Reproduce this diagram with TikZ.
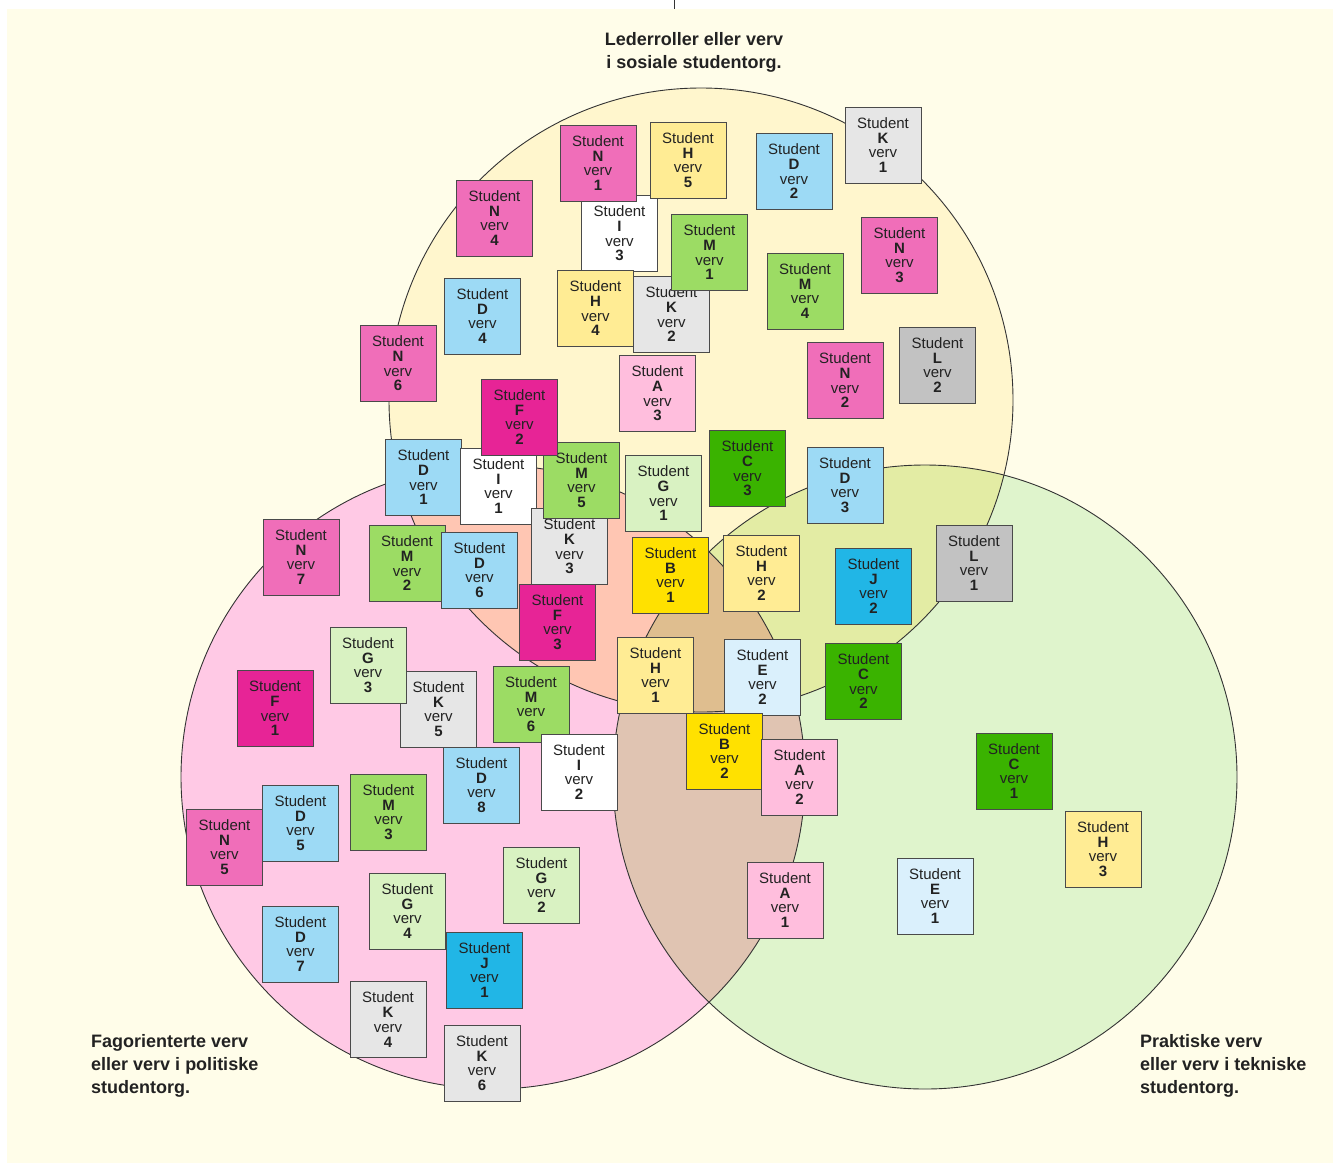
\documentclass[tikz,border=0pt]{standalone}
\usepackage{fontspec}
\setmainfont{Liberation Sans}
\definecolor{bgc}{HTML}{FFFDE9}
\definecolor{topc}{HTML}{FFF6CD}
\definecolor{leftc}{HTML}{FFC9E5}
\definecolor{rightc}{HTML}{DFF4CC}
\definecolor{tlc}{HTML}{FFC6B3}
\definecolor{trc}{HTML}{E3ECA4}
\definecolor{lrc}{HTML}{E0C4B2}
\definecolor{tlrc}{HTML}{DFBE8F}
\definecolor{ringline}{HTML}{333333}
\definecolor{boxline}{HTML}{4A4A4A}
\definecolor{txt}{HTML}{222222}
\definecolor{colN}{HTML}{F06EB9}
\definecolor{colH}{HTML}{FFEC94}
\definecolor{colI}{HTML}{FFFFFF}
\definecolor{colD}{HTML}{9DDAF5}
\definecolor{colK}{HTML}{E6E6E6}
\definecolor{colM}{HTML}{9CDC64}
\definecolor{colL}{HTML}{C2C2C2}
\definecolor{colA}{HTML}{FFBEDD}
\definecolor{colF}{HTML}{E72496}
\definecolor{colC}{HTML}{3AB300}
\definecolor{colG}{HTML}{D9F2C2}
\definecolor{colB}{HTML}{FFE100}
\definecolor{colJ}{HTML}{21B6E6}
\definecolor{colE}{HTML}{DAF0FC}
\newcommand{\studbox}[4]{\node[box,fill=col#3] (#3#4) at (#1,#2) {Student\\\textbf{#3}\\verv\\\textbf{#4}};}
\begin{document}
\begin{tikzpicture}[x=1pt,y=-1pt,
  box/.style={draw=boxline,line width=0.9pt,minimum width=76pt,minimum height=76pt,inner sep=0pt,align=center,text=txt,font=\fontsize{15}{14.7}\selectfont},
  lbl/.style={font=\bfseries\fontsize{18}{23}\selectfont,text=txt,inner sep=0pt},
  ring/.style={draw=ringline,line width=0.9pt}]
\useasboundingbox (0,0) rectangle (1333,1163);
\fill[white] (0,0) rectangle (1333,1163);
\fill[bgc] (7,9) rectangle (1333,1163);
\coordinate (vtop) at (674,0);
\coordinate (vbot) at (674,9);
\draw[ringline,line width=0.8pt] (vtop) -- (vbot);
\coordinate (T) at (701,400);
\coordinate (L) at (493,777);
\coordinate (R) at (925,777);
% fills
\fill[topc] (T) circle[radius=312pt];
\fill[leftc] (L) circle[radius=312pt];
\fill[rightc] (R) circle[radius=312pt];
\begin{scope}\clip (T) circle[radius=312pt]; \fill[tlc] (L) circle[radius=312pt];\end{scope}
\begin{scope}\clip (T) circle[radius=312pt]; \fill[trc] (R) circle[radius=312pt];\end{scope}
\begin{scope}\clip (L) circle[radius=312pt]; \fill[lrc] (R) circle[radius=312pt];\end{scope}
\begin{scope}\clip (T) circle[radius=312pt]; \clip (L) circle[radius=312pt]; \fill[tlrc] (R) circle[radius=312pt];\end{scope}
\draw[ring] (T) circle[radius=312pt];
\draw[ring] (L) circle[radius=312pt];
\draw[ring] (R) circle[radius=312pt];
% labels
\node[lbl,align=center] (ttl) at (694,52.5) {Lederroller eller verv\\i sosiale studentorg.};
\node[lbl,align=left,anchor=west] (lft) at (91,1066) {Fagorienterte verv\\eller verv i politiske\\studentorg.};
\node[lbl,align=left,anchor=west] (rgt) at (1140,1066) {Praktiske verv\\eller verv i tekniske\\studentorg.};
% boxes
\studbox{619.5}{233.5}{I}{3}
\studbox{598}{163}{N}{1}
\studbox{688}{160}{H}{5}
\studbox{794}{171.5}{D}{2}
\studbox{883}{145}{K}{1}
\studbox{494.5}{218}{N}{4}
\studbox{671.5}{314.5}{K}{2}
\studbox{709.5}{252.5}{M}{1}
\studbox{805}{291}{M}{4}
\studbox{899.5}{255}{N}{3}
\studbox{482.5}{316}{D}{4}
\studbox{595.5}{308.5}{H}{4}
\studbox{398}{363.5}{N}{6}
\studbox{657.5}{393.5}{A}{3}
\studbox{845}{380.5}{N}{2}
\studbox{937.5}{365}{L}{2}
\studbox{747.5}{468.5}{C}{3}
\studbox{845}{485}{D}{3}
\studbox{423.5}{477.5}{D}{1}
\studbox{498.5}{486}{I}{1}
\studbox{569.5}{546.5}{K}{3}
\studbox{581.5}{480}{M}{5}
\studbox{519.5}{417}{F}{2}
\studbox{663.5}{493.5}{G}{1}
\studbox{301}{557}{N}{7}
\studbox{407}{563.5}{M}{2}
\studbox{479.5}{570}{D}{6}
\studbox{670.5}{575}{B}{1}
\studbox{761.5}{573}{H}{2}
\studbox{873.5}{586}{J}{2}
\studbox{974}{563}{L}{1}
\studbox{557.5}{622}{F}{3}
\studbox{438.5}{709}{K}{5}
\studbox{368}{665}{G}{3}
\studbox{275}{708.5}{F}{1}
\studbox{531}{704}{M}{6}
\studbox{655.5}{675}{H}{1}
\studbox{762.5}{677}{E}{2}
\studbox{863.5}{681.5}{C}{2}
\studbox{724.5}{751}{B}{2}
\studbox{799.5}{777}{A}{2}
\studbox{579}{772}{I}{2}
\studbox{481.5}{785}{D}{8}
\studbox{388.5}{812}{M}{3}
\studbox{300.5}{823}{D}{5}
\studbox{224.5}{847}{N}{5}
\studbox{1014}{771}{C}{1}
\studbox{1103}{849}{H}{3}
\studbox{541.5}{885}{G}{2}
\studbox{407.5}{911}{G}{4}
\studbox{785}{900}{A}{1}
\studbox{935}{896}{E}{1}
\studbox{300.5}{944}{D}{7}
\studbox{484.5}{970}{J}{1}
\studbox{388}{1019.5}{K}{4}
\studbox{482}{1063}{K}{6}
\end{tikzpicture}
\end{document}
